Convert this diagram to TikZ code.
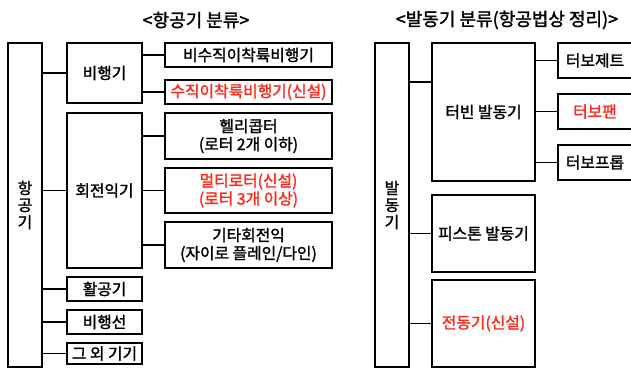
\documentclass[tikz,border=0pt]{standalone}
\usepackage{fontspec}
\setmainfont{Noto Sans CJK KR}[FakeBold=1.6]
\definecolor{newred}{HTML}{FF2A1A}
\tikzset{
  box/.style={draw=black, line width=1.8pt, inner sep=0pt, outer sep=0pt, align=center, font=\fontsize{15.8}{18}\selectfont},
  redtext/.style={text=newred},
  conn/.style={draw=black, line width=1.4pt},
  ttl/.style={inner sep=0pt, font=\fontsize{18}{20}\selectfont},
  vert/.style={box, font=\fontsize{15.8}{17}\selectfont}
}
\begin{document}
\begin{tikzpicture}[x=1pt,y=-1pt]
\useasboundingbox (0,0) rectangle (631,369);
\clip (0,0) rectangle (631,369);
% titles
\node[ttl] (t1) at (196,20) {<항공기 분류>};
\node[ttl] (t2) at (507,20) {<발동기 분류(항공법상 정리)>};
% left tree
\node[vert, minimum width=34pt, minimum height=324pt] (air) at (25,205) {항\\공\\기};
\node[box, minimum width=75pt, minimum height=60pt] (plane) at (104.5,73) {비행기};
\node[box, minimum width=75pt, minimum height=155pt] (rot) at (104.5,190.5) {회전익기};
\node[box, minimum width=75pt, minimum height=24pt] (glide) at (104.5,289) {활공기};
\node[box, minimum width=75pt, minimum height=24pt] (ship) at (104.5,322) {비행선};
\node[box, minimum width=75pt, minimum height=21pt] (etc) at (104.5,353.5) {그 외 기기};
\node[box, minimum width=167pt, minimum height=24pt] (nv) at (248.5,55) {비수직이착륙비행기};
\node[box, redtext, minimum width=167pt, minimum height=24pt] (vt) at (248.5,92) {수직이착륙비행기(신설)};
\node[box, minimum width=167pt, minimum height=46pt] (heli) at (248.5,136) {헬리콥터\\(로터 2개 이하)};
\node[box, redtext, minimum width=167pt, minimum height=45pt] (multi) at (248.5,190.5) {멀티로터(신설)\\(로터 3개 이상)};
\node[box, minimum width=167pt, minimum height=46pt] (orot) at (248.5,245) {기타회전익\\(자이로 플레인/다인)};
\draw[conn] (air.east |- plane.west) -- (plane.west);
\draw[conn] (air.east |- rot.west) -- (rot.west);
\draw[conn] (air.east |- glide.west) -- (glide.west);
\draw[conn] (air.east |- ship.west) -- (ship.west);
\draw[conn] (air.east |- etc.west) -- (etc.west);
\draw[conn] (plane.east |- nv.west) -- (nv.west);
\draw[conn] (plane.east |- vt.west) -- (vt.west);
\draw[conn] (rot.east |- heli.west) -- (heli.west);
\draw[conn] (rot.east |- multi.west) -- (multi.west);
\draw[conn] (rot.east |- orot.west) -- (orot.west);
% right tree
\node[vert, minimum width=34pt, minimum height=324pt] (eng) at (392,205) {발\\동\\기};
\node[box, minimum width=103pt, minimum height=138pt] (turb) at (483.5,112) {터빈 발동기};
\node[box, minimum width=103pt, minimum height=77pt] (pist) at (483.5,233.5) {피스톤 발동기};
\node[box, redtext, minimum width=103pt, minimum height=87pt] (elec) at (483.5,323.5) {전동기(신설)};
\node[box, minimum width=74pt, minimum height=35pt] (tj) at (595,60.5) {터보제트};
\node[box, redtext, minimum width=74pt, minimum height=35pt] (tf) at (595,111.5) {터보팬};
\node[box, minimum width=74pt, minimum height=35pt] (tp) at (595,162.5) {터보프롭};
\coordinate (eb) at (392,82);
\draw[conn] (eng.east |- eb) -- (turb.west |- eb);
\draw[conn] (eng.east |- pist.west) -- (pist.west);
\draw[conn] (eng.east |- elec.west) -- (elec.west);
\draw[conn] (turb.east |- tj.west) -- (tj.west);
\draw[conn] (turb.east |- tf.west) -- (tf.west);
\draw[conn] (turb.east |- tp.west) -- (tp.west);
\end{tikzpicture}
\end{document}
